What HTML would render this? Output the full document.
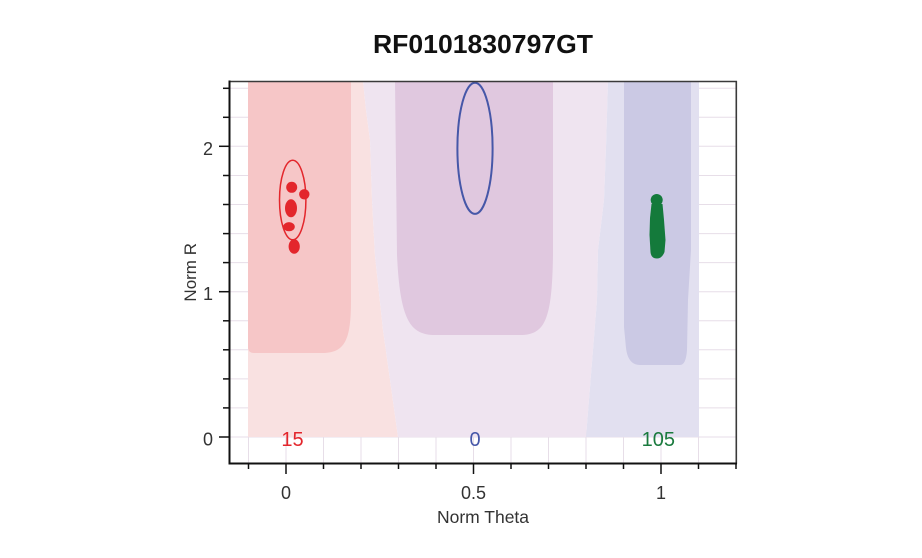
<!DOCTYPE html>
<html>
<head>
<meta charset="utf-8">
<style>
  html, body { margin: 0; padding: 0; background: #ffffff; }
  body { width: 922px; height: 558px; overflow: hidden; }
  svg { display: block; }
  text { font-family: "Liberation Sans", "DejaVu Sans", sans-serif; }
</style>
</head>
<body>
<svg width="922" height="558" viewBox="0 0 922 558" xmlns="http://www.w3.org/2000/svg">
  <rect x="0" y="0" width="922" height="558" fill="#ffffff"/>

  <!-- Title -->
  <text x="483" y="53" font-size="26" font-weight="bold" text-anchor="middle" fill="#111" textLength="220" lengthAdjust="spacingAndGlyphs">RF0101830797GT</text>

  <!-- Gridlines -->
  <g stroke="#e7dee8" stroke-width="1">
    <line x1="229" y1="437" x2="736" y2="437"/>
    <line x1="229" y1="407.9" x2="736" y2="407.9"/>
    <line x1="229" y1="378.9" x2="736" y2="378.9"/>
    <line x1="229" y1="349.8" x2="736" y2="349.8"/>
    <line x1="229" y1="320.8" x2="736" y2="320.8"/>
    <line x1="229" y1="291.7" x2="736" y2="291.7"/>
    <line x1="229" y1="262.6" x2="736" y2="262.6"/>
    <line x1="229" y1="233.6" x2="736" y2="233.6"/>
    <line x1="229" y1="204.5" x2="736" y2="204.5"/>
    <line x1="229" y1="175.5" x2="736" y2="175.5"/>
    <line x1="229" y1="146.3" x2="736" y2="146.3"/>
    <line x1="229" y1="117.3" x2="736" y2="117.3"/>
    <line x1="229" y1="88.3" x2="736" y2="88.3"/>

    <line x1="248.5" y1="81" x2="248.5" y2="463"/>
    <line x1="286" y1="81" x2="286" y2="463"/>
    <line x1="323.5" y1="81" x2="323.5" y2="463"/>
    <line x1="361" y1="81" x2="361" y2="463"/>
    <line x1="398.5" y1="81" x2="398.5" y2="463"/>
    <line x1="436" y1="81" x2="436" y2="463"/>
    <line x1="473.5" y1="81" x2="473.5" y2="463"/>
    <line x1="511" y1="81" x2="511" y2="463"/>
    <line x1="548.5" y1="81" x2="548.5" y2="463"/>
    <line x1="586" y1="81" x2="586" y2="463"/>
    <line x1="623.5" y1="81" x2="623.5" y2="463"/>
    <line x1="661" y1="81" x2="661" y2="463"/>
    <line x1="698.5" y1="81" x2="698.5" y2="463"/>
  </g>

  <!-- Background regions -->
  <path d="M248,81 L363,81 L366,110 L370,140 L372,200 L375,256 L383,330 L398,437 L248,437 Z" fill="#f9e1e1"/>
  <path d="M363,81 L608,81 L606,147 L604,200 L598,250 L597,300 L586,437 L398,437 L383,330 L375,256 L372,200 L370,140 L366,110 Z" fill="#efe4f0"/>
  <path d="M608,81 L699,81 L699,437 L586,437 L597,300 L598,250 L604,200 L606,147 Z" fill="#e2e0f0"/>

  <!-- Core regions -->
  <path d="M248,81 L351,81 L351,300 C351,340 345,353 322,353 L254,353 Q248,353 248,347 Z" fill="#f6c6c7"/>
  <path d="M395,81 L553,81 L553,255 C552,320 545,335 520,335 L435,335 C410,335 400,320 397,255 Z" fill="#e0c8df"/>
  <path d="M624,81 L691,81 L691,250 L688,300 L687,350 Q686,365 680,365 L640,365 Q628,365 626,348 L624,327 Z" fill="#cbc9e4"/>

  <!-- Red cluster -->
  <ellipse cx="292.7" cy="200" rx="13.2" ry="39.8" fill="none" stroke="#e3262c" stroke-width="1.5"/>
  <g fill="#e3262c">
    <circle cx="291.7" cy="187.3" r="5.5"/>
    <circle cx="304.3" cy="194.3" r="5.2"/>
    <ellipse cx="291" cy="208.3" rx="6" ry="9"/>
    <ellipse cx="289" cy="226.7" rx="5.8" ry="4.6"/>
    <ellipse cx="294.2" cy="246.5" rx="5.6" ry="7.2"/>
  </g>

  <!-- Blue ellipse -->
  <ellipse cx="475" cy="148.3" rx="17.6" ry="65.6" fill="none" stroke="#4657a8" stroke-width="2"/>

  <!-- Green cluster -->
  <g fill="#147a3b">
    <circle cx="656.7" cy="200" r="6"/>
    <path d="M651.5,204 L662.5,204 L664,220 L665.5,240 L664.5,252 Q662,258.5 657,258.5 Q651,258.5 650.5,252 L649.5,235 L650,218 Z"/>
  </g>

  <!-- Count labels -->
  <text x="292.5" y="446" font-size="20" text-anchor="middle" fill="#e3262c">15</text>
  <text x="475" y="446" font-size="20" text-anchor="middle" fill="#4657a8">0</text>
  <text x="658.3" y="446" font-size="20" text-anchor="middle" fill="#1a7a3e">105</text>

  <!-- Frame -->
  <line x1="229" y1="81.5" x2="737" y2="81.5" stroke="#3a3a3a" stroke-width="1.6"/>
  <line x1="736.3" y1="81" x2="736.3" y2="464" stroke="#3a3a3a" stroke-width="1.6"/>
  <line x1="229.5" y1="80.5" x2="229.5" y2="464.5" stroke="#111" stroke-width="2"/>
  <line x1="228.5" y1="463.5" x2="737" y2="463.5" stroke="#111" stroke-width="2"/>

  <!-- Y ticks -->
  <g stroke="#111" stroke-width="1.5">
    <line x1="219" y1="437" x2="229" y2="437"/>
    <line x1="223" y1="407.9" x2="229" y2="407.9"/>
    <line x1="223" y1="378.9" x2="229" y2="378.9"/>
    <line x1="223" y1="349.8" x2="229" y2="349.8"/>
    <line x1="223" y1="320.8" x2="229" y2="320.8"/>
    <line x1="219" y1="291.7" x2="229" y2="291.7"/>
    <line x1="223" y1="262.6" x2="229" y2="262.6"/>
    <line x1="223" y1="233.6" x2="229" y2="233.6"/>
    <line x1="223" y1="204.5" x2="229" y2="204.5"/>
    <line x1="223" y1="175.5" x2="229" y2="175.5"/>
    <line x1="219" y1="146.3" x2="229" y2="146.3"/>
    <line x1="223" y1="117.3" x2="229" y2="117.3"/>
    <line x1="223" y1="88.3" x2="229" y2="88.3"/>
  </g>

  <!-- X ticks -->
  <g stroke="#111" stroke-width="1.5">
    <line x1="248.5" y1="463" x2="248.5" y2="469"/>
    <line x1="286" y1="463" x2="286" y2="474"/>
    <line x1="323.5" y1="463" x2="323.5" y2="469"/>
    <line x1="361" y1="463" x2="361" y2="469"/>
    <line x1="398.5" y1="463" x2="398.5" y2="469"/>
    <line x1="436" y1="463" x2="436" y2="469"/>
    <line x1="473.5" y1="463" x2="473.5" y2="474"/>
    <line x1="511" y1="463" x2="511" y2="469"/>
    <line x1="548.5" y1="463" x2="548.5" y2="469"/>
    <line x1="586" y1="463" x2="586" y2="469"/>
    <line x1="623.5" y1="463" x2="623.5" y2="469"/>
    <line x1="661" y1="463" x2="661" y2="474"/>
    <line x1="698.5" y1="463" x2="698.5" y2="469"/>
    <line x1="736" y1="463" x2="736" y2="469"/>
  </g>

  <!-- Tick labels -->
  <g font-size="18" fill="#333">
    <text x="213" y="445.5" text-anchor="end">0</text>
    <text x="213" y="300" text-anchor="end">1</text>
    <text x="213" y="155" text-anchor="end">2</text>
    <text x="286" y="499" text-anchor="middle">0</text>
    <text x="473.5" y="499" text-anchor="middle">0.5</text>
    <text x="661" y="499" text-anchor="middle">1</text>
  </g>

  <!-- Axis titles -->
  <text x="483" y="523" font-size="17.5" text-anchor="middle" fill="#333">Norm Theta</text>
  <text x="0" y="0" font-size="17" text-anchor="middle" fill="#333" transform="translate(196,272.3) rotate(-90)">Norm R</text>
</svg>
</body>
</html>
